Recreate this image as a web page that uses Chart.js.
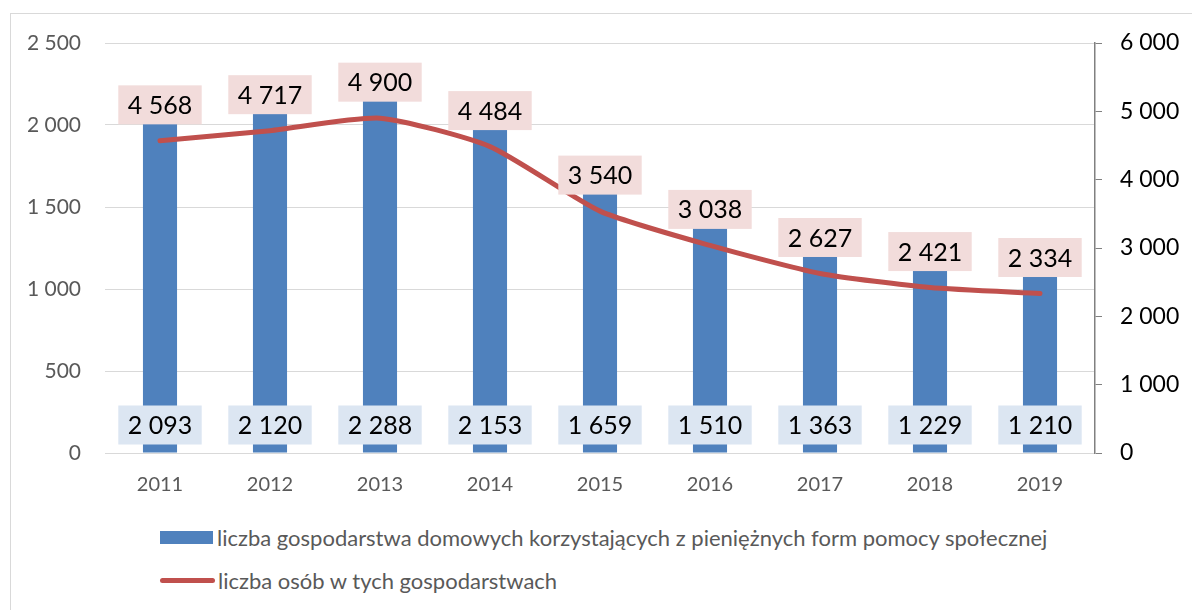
<!DOCTYPE html>
<html>
<head>
<meta charset="utf-8">
<script src="https://cdn.jsdelivr.net/npm/chart.js@4.4.1/dist/chart.umd.min.js"></script>
<style>
  html, body { margin: 0; padding: 0; background: #fff; }
  body { width: 1192px; height: 610px; position: relative; overflow: hidden; font-family: Lato, "Noto Sans", sans-serif; }
  #frame { position: absolute; left: 10px; top: 13px; width: 1200px; height: 620px; border: 1px solid #d9d9d9; box-sizing: border-box; }
  #wrap { position: absolute; left: 0; top: 0; width: 1192px; height: 509px; }
  #legend { position: absolute; left: 160px; top: 524px; color: #595959; font-size: 22px; }
  .item { display: flex; align-items: center; height: 26px; margin-bottom: 17px; }
  .sw-bar { width: 53px; height: 13px; background: #4f81bd; margin-right: 4px; }
  .sw-line { width: 55px; height: 5px; background: #c0504d; border-radius: 3px; margin-right: 3px; }
</style>
</head>
<body>
<div id="frame"></div>
<div id="wrap"><canvas id="chart"></canvas></div>
<div id="legend">
  <div class="item"><span class="sw-bar"></span>liczba gospodarstwa domowych korzystających z pieniężnych form pomocy społecznej</div>
  <div class="item"><span class="sw-line"></span>liczba osób w tych gospodarstwach</div>
</div>
<script>
// ── data ────────────────────────────────────────────────────────────────────
const years = ['2011', '2012', '2013', '2014', '2015', '2016', '2017', '2018', '2019'];
const households = [2093, 2120, 2288, 2153, 1659, 1510, 1363, 1229, 1210];
const persons = [4568, 4717, 4900, 4484, 3540, 3038, 2627, 2421, 2334];
const leftTicks = [0, 500, 1000, 1500, 2000, 2500];
const rightTicks = [0, 1000, 2000, 3000, 4000, 5000, 6000];

function fmt(v) {
  return String(v).replace(/\B(?=(\d{3})+(?!\d))/g, ' ');
}

// ── value boxes ─────────────────────────────────────────────────────────────
const boxLabels = {
  id: 'boxLabels',
  afterDatasetsDraw(chart) {
    const ctx = chart.ctx;
    const base = chart.scales.y.getPixelForValue(0);
    ctx.save();
    ctx.font = '25px Lato, "Noto Sans", sans-serif';
    ctx.textAlign = 'center';
    ctx.textBaseline = 'middle';
    const draw = function (x, y, text, fill) {
      const w = ctx.measureText(text).width + 19;
      const h = 39;
      ctx.fillStyle = fill;
      ctx.fillRect(x - w / 2, y - h / 2, w, h);
      ctx.fillStyle = '#000';
      ctx.fillText(text, x, y + 1);
    };
    chart.getDatasetMeta(1).data.forEach(function (el, i) {
      draw(el.x, base - 28, fmt(households[i]), '#dce6f2');
    });
    chart.getDatasetMeta(0).data.forEach(function (el, i) {
      draw(el.x, el.y - 36, fmt(persons[i]), '#f2dcdb');
    });
    ctx.restore();
  }
};

const fontFamily = 'Lato, "Noto Sans", sans-serif';

new Chart(document.getElementById('chart'), {
  type: 'bar',
  data: {
    labels: years,
    datasets: [
      {
        type: 'line',
        data: persons,
        yAxisID: 'y1',
        borderColor: '#c0504d',
        borderWidth: 5,
        borderCapStyle: 'round',
        pointRadius: 0,
        tension: 0.2,
        order: 0,
      },
      {
        type: 'bar',
        data: households,
        yAxisID: 'y',
        backgroundColor: '#4f81bd',
        barPercentage: 0.31,
        categoryPercentage: 1,
        order: 1,
      }
    ]
  },
  options: {
    responsive: true,
    maintainAspectRatio: false,
    animation: false,
    layout: { padding: { top: 43, left: 10, right: 0, bottom: 0 } },
    plugins: { legend: { display: false }, tooltip: { enabled: false } },
    scales: {
      x: {
        grid: { display: false },
        border: { color: '#d9d9d9' },
        ticks: { color: '#595959', font: { family: fontFamily, size: 20 }, padding: 12 },
      },
      y: {
        position: 'left',
        min: 0, max: 2500,
        afterBuildTicks: function (s) { s.ticks = leftTicks.map(function (v) { return { value: v }; }); },
        afterFit: function (s) { s.width = 95; },
        grid: { color: '#d9d9d9', tickLength: 0 },
        border: { display: false },
        ticks: { color: '#595959', font: { family: fontFamily, size: 21 }, padding: 24, callback: fmt },
      },
      y1: {
        position: 'right',
        min: 0, max: 6000,
        afterBuildTicks: function (s) { s.ticks = rightTicks.map(function (v) { return { value: v }; }); },
        afterFit: function (s) { s.width = 97; },
        grid: { drawOnChartArea: false, color: '#808080', tickLength: 7 },
        border: { color: '#808080', width: 1.5 },
        ticks: { color: '#000', font: { family: fontFamily, size: 23 }, padding: 18, callback: fmt },
      }
    }
  },
  plugins: [boxLabels]
});
</script>
</body>
</html>
